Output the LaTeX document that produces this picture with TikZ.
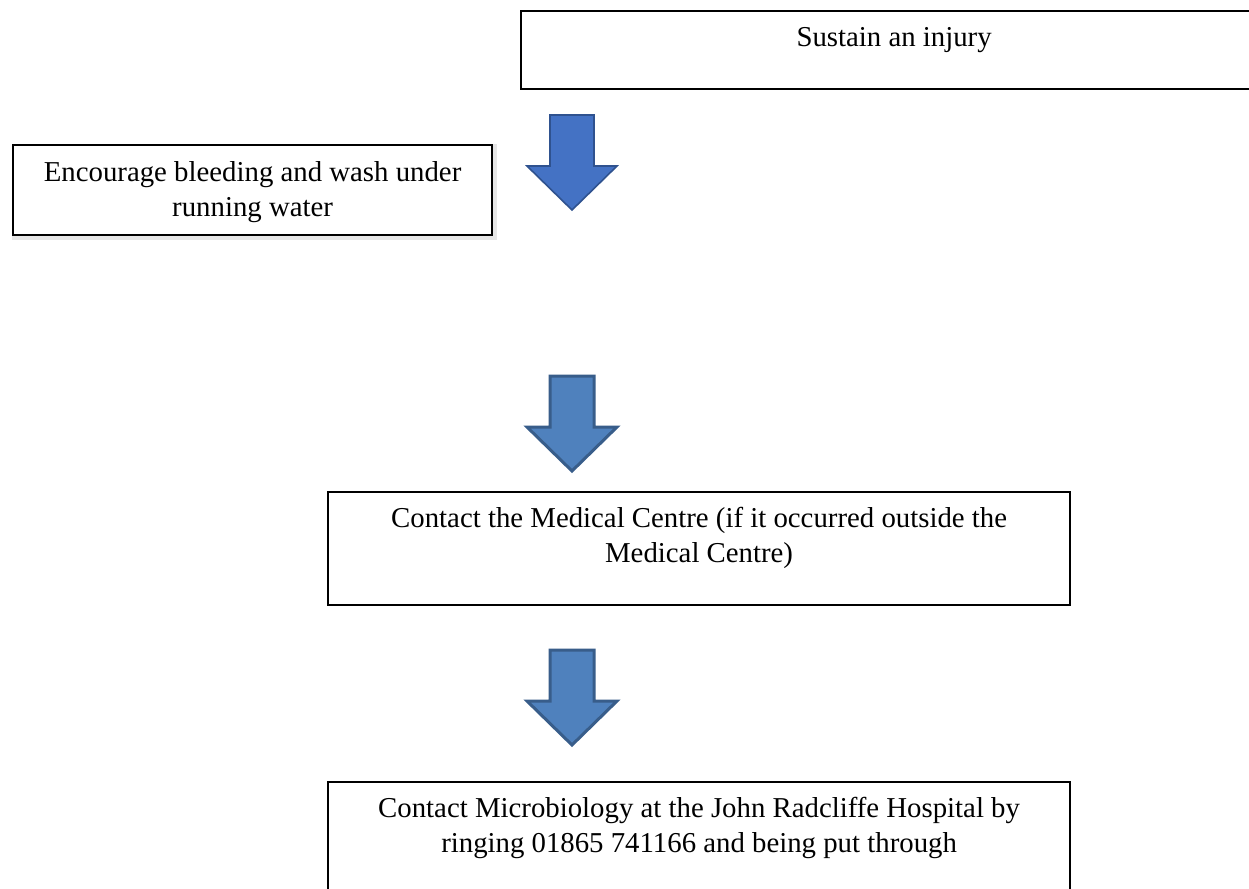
\documentclass[tikz,border=0pt]{standalone}
\usepackage{fontspec}
\setmainfont{Liberation Serif}
\usetikzlibrary{positioning}
\definecolor{firstblue}{HTML}{4472C4}
\definecolor{firstedge}{HTML}{2F528F}
\definecolor{stepblue}{HTML}{4F81BD}
\definecolor{stepedge}{HTML}{385D8A}
\definecolor{shadowgray}{HTML}{E6E6E6}
\tikzset{stepbox/.style = {draw, line width=1.1pt, fill=white,
                           inner sep=0, anchor=north west}}
\tikzset{boxtext/.style = {align=center, inner sep=0, anchor=north,
                           font=\fontsize{14.4}{17.5}\selectfont}}
\tikzset{blockarrow/.style = {draw=stepedge, fill=stepblue,
                              line width=1.5pt, line join=miter}}
% block arrow pointing down, tip at (#2,#3)
\newcommand{\blockarrow}[3]{%
  \draw[blockarrow,#1] (#2,#3) ++(-22,-95) -- ++(44,0) -- ++(0,51)
    -- ++(23,0) -- (#2,#3) -- ++(-45,-44) -- ++(23,0) -- cycle;}

\begin{document}
\begin{tikzpicture}[x=0.5pt, y=-0.5pt]
          \clip (0,0) rectangle (1249,889);
          \fill[white] (0,0) rectangle (1249,889);
          % boxes
          \node[stepbox, minimum width=373pt, minimum height=39pt]
            (injury) at (520,10) {};
          \fill[shadowgray] (12,144) rectangle (497,240);
          \node[stepbox, minimum width=239.5pt, minimum height=45pt]
            (bleed) at (12,144) {};
          \node[stepbox, minimum width=371pt, minimum height=56.5pt]
            (medical) at (327,491) {};
          \node[stepbox, minimum width=371pt, minimum height=57pt]
            (radcliffe) at (327,781) {};
          % texts
          \node[boxtext, below=8.5pt of injury.north] (injurytext)
            {Sustain an injury};
          \node[boxtext, below=8.5pt of bleed.north] (bleedtext)
            {Encourage bleeding and wash under\\ running water};
          \node[boxtext, below=8pt of medical.north] (medicaltext)
            {Contact the Medical Centre (if it occurred outside the\\ Medical Centre)};
          \node[boxtext, below=8pt of radcliffe.north] (radcliffetext)
            {Contact Microbiology at the John Radcliffe Hospital by\\ ringing 01865 741166 and being put through};
          % arrows
          \blockarrow{draw=firstedge, fill=firstblue, line width=0.8pt}{572}{210}
          \blockarrow{}{572}{471}
          \blockarrow{}{572}{745}
        \end{tikzpicture}
\end{document}
